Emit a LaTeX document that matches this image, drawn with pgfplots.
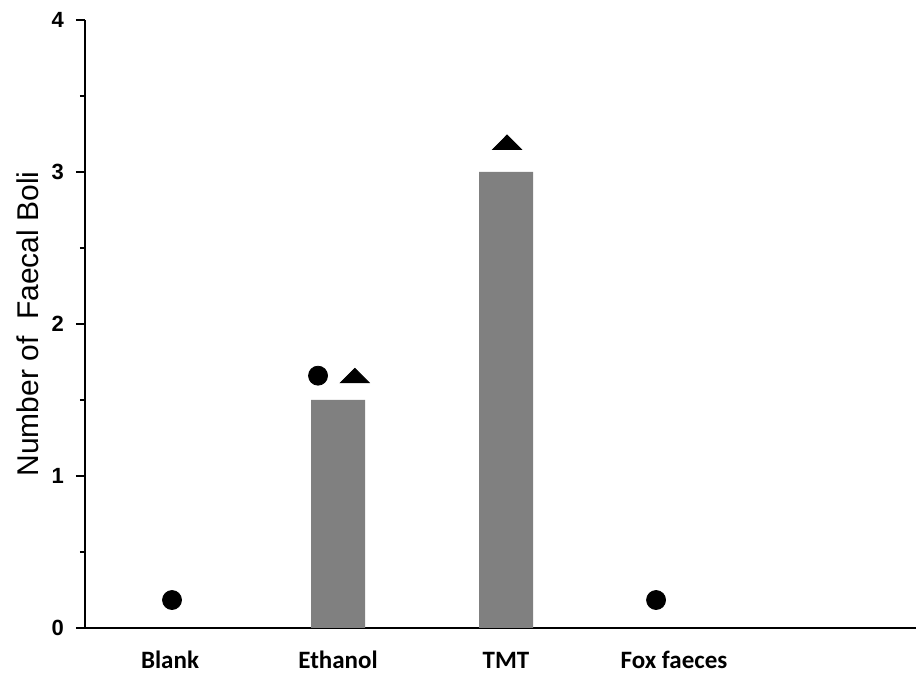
\documentclass[border=0pt]{standalone}
\usepackage{fontspec}
\setmainfont{Liberation Sans}
\newfontfamily\calfont{Carlito}
\usepackage{pgfplots}
\pgfplotsset{compat=1.18}
\usetikzlibrary{calc}
\definecolor{bargray}{RGB}{128,128,128}
\begin{document}
\begin{tikzpicture}
\begin{axis}[name=ax, scale only axis, width=415.5pt, height=304pt,
 xmin=-0.506, xmax=4.44, ymin=0, ymax=4,
 axis x line=bottom, axis y line=left,
 axis line style={-, line width=1pt, black},
 ytick={0,1,2,3,4}, minor ytick={0.5,1.5,2.5,3.5},
 xtick={0,1,2,3}, xticklabels={Blank,Ethanol,TMT,Fox faeces},
 x tick style={draw=none},
 y tick style={line width=0.9pt, black},
 tick align=outside, major tick length=4.5pt, minor tick length=2.5pt,
 /pgf/number format/assume math mode=true,
 yticklabel style={font=\fontsize{11}{13}\selectfont\bfseries, xshift=-2.5pt},
 xticklabel style={font=\calfont\bfseries\fontsize{12.5}{14}\selectfont, anchor=base, yshift=-16pt},
 ylabel={Number of\ \ Faecal Boli},
 every axis y label/.style={at={(axis description cs:-0.0686,0.5)}, rotate=90, anchor=center, font=\fontsize{15}{18}\selectfont},
 clip=false]
\addplot[ybar, bar width=27pt, bar shift=0pt, fill=bargray, draw=none] coordinates {(1,1.5) (2,3)};
\addplot[only marks, mark=*, mark size=4.75pt, black] coordinates {(0.012,0.184) (0.881,1.66) (2.893,0.184)};
\addplot[only marks, mark=triangle*, mark size=8.3pt, mark options={yscale=0.58}, black] coordinates {(1.10,1.645) (2.006,3.18)};
\end{axis}
\pgfresetboundingbox
\path ($(ax.south west)+(-42.5pt,-24.5pt)$) rectangle ($(ax.north east)+(0,10pt)$);
\end{tikzpicture}
\end{document}
